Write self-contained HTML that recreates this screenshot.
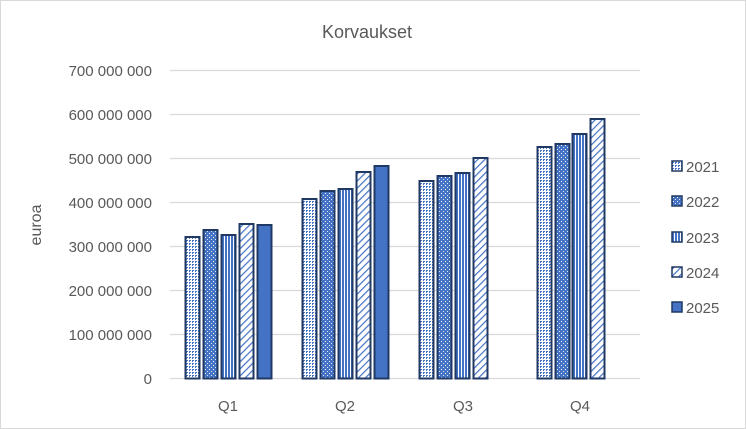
<!DOCTYPE html>
<html><head><meta charset="utf-8"><style>
body{margin:0;background:#fff}
svg{display:block;font-family:"Liberation Sans",sans-serif}
</style></head><body>
<svg width="746" height="429" viewBox="0 0 746 429">
<defs>
<pattern id="p1" width="3" height="3" patternUnits="userSpaceOnUse"><rect width="3" height="3" fill="#fff"/><rect width="2" height="1" fill="#4472c4"/><rect width="1" height="2" fill="#4472c4"/></pattern>
<pattern id="p2" width="4" height="4" patternUnits="userSpaceOnUse"><rect width="4" height="4" fill="#4472c4"/><rect x="1" y="1" width="1" height="1" fill="#fff"/><rect x="3" y="3" width="1" height="1" fill="#dfe6f5"/></pattern>
<pattern id="p3" width="3" height="3" patternUnits="userSpaceOnUse"><rect width="3" height="3" fill="#fff"/><rect width="2" height="3" fill="#4472c4"/></pattern>
<pattern id="p4" width="5" height="5" patternUnits="userSpaceOnUse" patternTransform="rotate(45)"><rect width="5" height="5" fill="#fff"/><rect width="1.2" height="5" fill="#4472c4"/></pattern>
</defs>
<rect x="0.5" y="0.5" width="745" height="428" fill="#fff" stroke="#d9d9d9"/>
<text x="367" y="38" font-size="18" fill="#595959" text-anchor="middle">Korvaukset</text>
<g stroke="#d9d9d9" stroke-width="1.3">
<line x1="170" x2="640" y1="70.5" y2="70.5"/><line x1="170" x2="640" y1="114.5" y2="114.5"/><line x1="170" x2="640" y1="158.5" y2="158.5"/><line x1="170" x2="640" y1="202.5" y2="202.5"/><line x1="170" x2="640" y1="246.5" y2="246.5"/><line x1="170" x2="640" y1="290.5" y2="290.5"/><line x1="170" x2="640" y1="334.5" y2="334.5"/><line x1="170" x2="640" y1="378.5" y2="378.5"/>
</g>
<g font-size="15" fill="#595959" text-anchor="end">
<text x="152" y="76">700 000 000</text><text x="152" y="120">600 000 000</text><text x="152" y="164">500 000 000</text><text x="152" y="208">400 000 000</text><text x="152" y="252">300 000 000</text><text x="152" y="296">200 000 000</text><text x="152" y="340">100 000 000</text><text x="152" y="384">0</text>
</g>
<text transform="translate(41,225) rotate(-90)" font-size="16" fill="#595959" text-anchor="middle">euroa</text>
<g stroke="#1f3864" stroke-width="2">
<rect x="185.5" y="237" width="14" height="141.5" fill="url(#p1)"/>
<rect x="203.5" y="230" width="14" height="148.5" fill="url(#p2)"/>
<rect x="221.5" y="235" width="14" height="143.5" fill="url(#p3)"/>
<rect x="239.5" y="224" width="14" height="154.5" fill="url(#p4)"/>
<rect x="257.5" y="225" width="14" height="153.5" fill="#4472c4"/>
<rect x="302.5" y="199" width="14" height="179.5" fill="url(#p1)"/>
<rect x="320.5" y="191" width="14" height="187.5" fill="url(#p2)"/>
<rect x="338.5" y="189" width="14" height="189.5" fill="url(#p3)"/>
<rect x="356.5" y="172" width="14" height="206.5" fill="url(#p4)"/>
<rect x="374.5" y="166" width="14" height="212.5" fill="#4472c4"/>
<rect x="419.5" y="181" width="14" height="197.5" fill="url(#p1)"/>
<rect x="437.5" y="176" width="14" height="202.5" fill="url(#p2)"/>
<rect x="455.5" y="173" width="14" height="205.5" fill="url(#p3)"/>
<rect x="473.5" y="158" width="14" height="220.5" fill="url(#p4)"/>
<rect x="537.5" y="147" width="14" height="231.5" fill="url(#p1)"/>
<rect x="555.5" y="144" width="14" height="234.5" fill="url(#p2)"/>
<rect x="572.5" y="134" width="14" height="244.5" fill="url(#p3)"/>
<rect x="590.5" y="119" width="14" height="259.5" fill="url(#p4)"/>
</g>
<g font-size="15" fill="#595959" text-anchor="middle">
<text x="228" y="411">Q1</text><text x="345" y="411">Q2</text><text x="463" y="411">Q3</text><text x="580" y="411">Q4</text>
</g>
<g stroke="#1f3864" stroke-width="1.5">
<rect x="672" y="161" width="10" height="10" fill="url(#p1)"/>
<rect x="672" y="196" width="10" height="10" fill="url(#p2)"/>
<rect x="672" y="232" width="10" height="10" fill="url(#p3)"/>
<rect x="672" y="267" width="10" height="10" fill="url(#p4)"/>
<rect x="672" y="302" width="10" height="10" fill="#4472c4"/>
</g>
<g font-size="15" fill="#595959">
<text x="686" y="172">2021</text><text x="686" y="207">2022</text><text x="686" y="243">2023</text><text x="686" y="278">2024</text><text x="686" y="313">2025</text>
</g>
</svg>
</body></html>
